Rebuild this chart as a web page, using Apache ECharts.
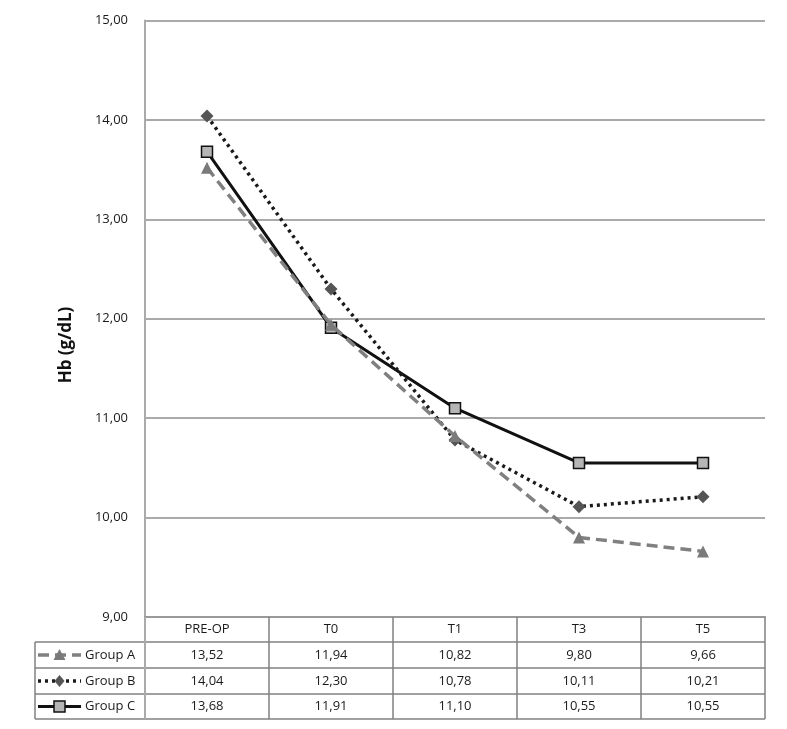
<!DOCTYPE html>
<html><head><meta charset="utf-8">
<script src="https://cdn.jsdelivr.net/npm/echarts@6/dist/echarts.min.js"></script>
<style>html,body{margin:0;padding:0;background:#fff}#c{width:787px;height:729px}</style>
</head><body><div id="c"></div>
<script>
const categories = ['PRE-OP', 'T0', 'T1', 'T3', 'T5'];
const groupA = [13.52, 11.94, 10.82, 9.80, 9.66];
const groupB = [14.04, 12.30, 10.78, 10.11, 10.21];
const groupC = [13.68, 11.91, 11.10, 10.55, 10.55];
const seriesNames = ['Group A', 'Group B', 'Group C'];
const yMin = 9, yMax = 15, yStep = 1;
const yTitle = 'Hb (g/dL)';

const FONT = 'Open Sans';
const fmt = v => v.toFixed(2).replace('.', ',');
const chart = echarts.init(document.getElementById('c'), null, {renderer: 'canvas'});

const GRID = {left: 145, right: 22, top: 20.5, bottom: 112};
const styles = [
  {line: {color: '#808080', width: 3.5, type: [11, 6]}, symbol: 'triangle', size: 12, item: {color: '#7a7a7a'}},
  {line: {color: '#1a1a1a', width: 3.5, type: [3, 4]}, symbol: 'diamond', size: 13, item: {color: '#555'}},
  {line: {color: '#111', width: 3}, symbol: 'rect', size: 11, item: {color: '#b5b5b5', borderColor: '#111', borderWidth: 1.5}}
];
const dataSets = [groupA, groupB, groupC];

chart.setOption({
  animation: false,
  backgroundColor: '#fff',
  grid: GRID,
  xAxis: {
    type: 'category', data: categories, boundaryGap: true,
    axisLine: {show: true, lineStyle: {color: '#999', width: 2}},
    axisTick: {show: false}, axisLabel: {show: false}, splitLine: {show: false}
  },
  yAxis: {
    type: 'value', min: yMin, max: yMax, interval: yStep,
    axisLine: {show: true, lineStyle: {color: '#aaa', width: 2}},
    axisTick: {show: false},
    axisLabel: {formatter: v => fmt(v), fontFamily: FONT, fontSize: 13, color: '#1a1a1a', margin: 17},
    splitLine: {show: true, lineStyle: {color: '#aaa', width: 2}}
  },
  series: dataSets.map((d, i) => ({
    name: seriesNames[i], type: 'line', data: d,
    symbol: styles[i].symbol, symbolSize: styles[i].size,
    lineStyle: styles[i].line, itemStyle: styles[i].item, z: 3 + (2 - i)
  }))
});

// Build data table below plot using axis scale positions
const cx = categories.map((c, i) => chart.convertToPixel({xAxisIndex: 0}, i));
const band = cx.length > 1 ? cx[1] - cx[0] : 124;
const leftX = cx[0] - band / 2, rightX = cx[cx.length - 1] + band / 2;
const y0 = chart.convertToPixel({yAxisIndex: 0}, yMin);
const rows = [y0, y0 + 25, y0 + 51, y0 + 77, y0 + 102];
const tableLeft = 35;
const bc = '#808080';
const g = [];
const L = (x1, y1, x2, y2, c, w) => g.push({type: 'line', silent: true, shape: {x1, y1, x2, y2}, style: {stroke: c || bc, lineWidth: w || 1.5}, z: 10});
// horizontal lines
L(leftX, rows[0], rightX, rows[0], '#999', 2);
for (let r = 1; r < rows.length; r++) L(tableLeft, rows[r], rightX, rows[r]);
// vertical lines
L(tableLeft, rows[1], tableLeft, rows[4]);
L(leftX, rows[0], leftX, rows[4], '#aaa', 2);
for (let i = 0; i < cx.length; i++) L(cx[i] + band / 2, rows[0], cx[i] + band / 2, rows[4]);
// header labels
categories.forEach((c, i) => g.push({type: 'text', silent: true, x: cx[i], y: (rows[0] + rows[1]) / 2,
  style: {text: c, fontFamily: FONT, fontSize: 13, fill: '#1a1a1a', align: 'center', verticalAlign: 'middle'}, z: 11}));
// data rows
dataSets.forEach((d, r) => {
  const yc = (rows[r + 1] + rows[r + 2]) / 2;
  d.forEach((v, i) => g.push({type: 'text', silent: true, x: cx[i], y: yc,
    style: {text: fmt(v), fontFamily: FONT, fontSize: 13, fill: '#1a1a1a', align: 'center', verticalAlign: 'middle'}, z: 11}));
  // legend key
  const s = styles[r];
  const dash = Array.isArray(s.line.type) ? s.line.type : null;
  g.push({type: 'line', silent: true, shape: {x1: 38, y1: yc, x2: 81, y2: yc},
    style: {stroke: s.line.color, lineWidth: s.line.width, lineDash: dash}, z: 11});
  const mx = 59.5;
  if (s.symbol === 'triangle') g.push({type: 'polygon', silent: true, shape: {points: [[mx, yc - 6], [mx - 6, yc + 5], [mx + 6, yc + 5]]}, style: {fill: s.item.color}, z: 12});
  else if (s.symbol === 'diamond') g.push({type: 'polygon', silent: true, shape: {points: [[mx, yc - 6], [mx + 5, yc], [mx, yc + 6], [mx - 5, yc]]}, style: {fill: s.item.color}, z: 12});
  else g.push({type: 'rect', silent: true, shape: {x: mx - 5.5, y: yc - 5.5, width: 11, height: 11}, style: {fill: s.item.color, stroke: s.item.borderColor, lineWidth: 1.5}, z: 12});
  g.push({type: 'text', silent: true, x: 85, y: yc, style: {text: seriesNames[r], fontFamily: FONT, fontSize: 13, fill: '#1a1a1a', align: 'left', verticalAlign: 'middle'}, z: 11});
});
// y axis title
g.push({type: 'text', silent: true, x: 66, y: 345, rotation: Math.PI / 2,
  style: {text: yTitle, fontFamily: FONT, fontSize: 17, fontWeight: 'bold', fill: '#111', align: 'center', verticalAlign: 'middle'}});
chart.setOption({graphic: g});
</script>
</body></html>
